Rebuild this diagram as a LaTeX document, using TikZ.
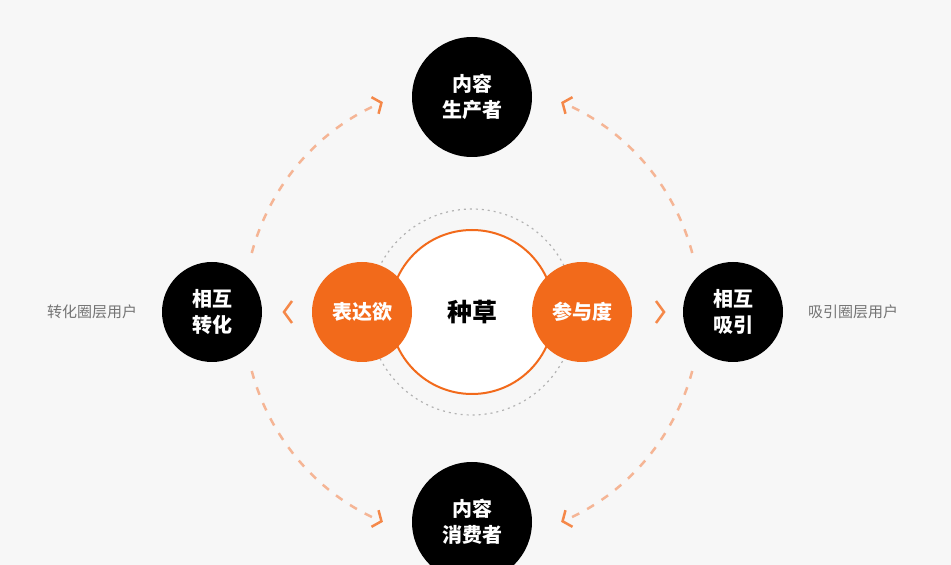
\documentclass[tikz,border=0pt]{standalone}
\usepackage{fontspec}
\setmainfont{Noto Sans CJK SC}
\usetikzlibrary{arrows.meta}
\definecolor{org}{HTML}{F26A1B}
\definecolor{lorg}{HTML}{F5B595}
\definecolor{bg}{HTML}{F7F7F7}
\begin{document}
\begin{tikzpicture}[x=1pt,y=1pt,
 blk/.style={circle,fill=black,minimum size=120pt,inner sep=0pt,text=white,font=\fontsize{20}{26}\selectfont\bfseries,align=center},
 side/.style={blk,minimum size=100pt},
 onode/.style={circle,fill=org,minimum size=100pt,inner sep=0pt,text=white,font=\fontsize{20}{26}\selectfont\bfseries},
 lab/.style={text=black!55,font=\fontsize{15}{18}\selectfont},
 arcline/.style={lorg,line width=2.5pt,dash pattern=on 8pt off 9pt,-{Straight Barb[length=7pt,width=18pt,line width=2.5pt,color=org!80]}},
 chev/.style={org!80,line width=2.5pt}]
\fill[bg] (0,0) rectangle (951,565);
\useasboundingbox (0,0) rectangle (951,565);
\coordinate (c) at (472,253);
\draw[black!30,line width=1.2pt,dash pattern=on 2pt off 4pt] (c) circle (103);
\node[circle,draw=org,line width=2pt,fill=white,minimum size=164pt,inner sep=0pt,font=\fontsize{25}{30}\selectfont\bfseries] (zc) at (c) {种草};
\node[onode] (l) at (362,253) {表达欲};
\node[onode] (r) at (582,253) {参与度};
\node[blk] (top) at (472,468) {内容\\生产者};
\node[blk] (bot) at (472,43) {内容\\消费者};
\node[side] (sl) at (212,253) {相互\\转化};
\node[side] (sr) at (733,253) {相互\\吸引};
\node[lab] (tl) at (92,253) {转化圈层用户};
\node[lab] (tr) at (853,253) {吸引圈层用户};
\draw[arcline] (c) ++(165:228) arc (165:113:228);
\draw[arcline] (c) ++(15:228) arc (15:67:228);
\draw[arcline] (c) ++(195:228) arc (195:247:228);
\draw[arcline] (c) ++(-15:228) arc (-15:-67:228);
\draw[chev] (292,264) -- (284,253) -- (292,242);
\draw[chev] (656,264) -- (664,253) -- (656,242);
\end{tikzpicture}
\end{document}
